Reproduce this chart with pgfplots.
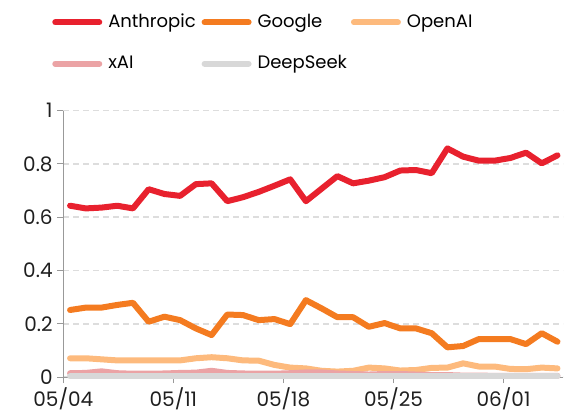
\documentclass[border=0pt]{standalone}
\usepackage{pgfplots}
\usepackage{pgfplotstable}
\pgfplotsset{compat=1.18}
\usepackage{fontspec}
\setmainfont{Poppins}

\definecolor{anth}{HTML}{E8212E}
\definecolor{goog}{HTML}{F47B20}
\definecolor{oai}{HTML}{FDBA7D}
\definecolor{xai}{HTML}{EBA3A5}
\definecolor{ds}{HTML}{D8D8D8}
\definecolor{axgray}{HTML}{999999}
\definecolor{gridgray}{HTML}{DDDDDD}

\pgfplotstableread{
x     anth  goog  oai   xai   ds
0.43  0.643 0.252 0.071 0.015 0.003
1.43  0.633 0.261 0.071 0.016 0.003
2.43  0.636 0.261 0.067 0.022 0.003
3.43  0.643 0.271 0.063 0.015 0.003
4.43  0.633 0.279 0.063 0.013 0.003
5.43  0.705 0.208 0.063 0.013 0.003
6.43  0.687 0.227 0.063 0.014 0.003
7.43  0.680 0.214 0.063 0.016 0.003
8.43  0.724 0.183 0.071 0.017 0.003
9.43  0.727 0.158 0.075 0.024 0.003
10.43 0.660 0.235 0.071 0.016 0.003
11.43 0.675 0.233 0.063 0.014 0.003
12.43 0.695 0.214 0.062 0.013 0.003
13.43 0.718 0.218 0.046 0.013 0.003
14.43 0.742 0.199 0.036 0.015 0.003
15.43 0.660 0.289 0.033 0.018 0.003
16.43 0.707 0.258 0.024 0.018 0.003
17.43 0.754 0.225 0.021 0.014 0.003
18.43 0.727 0.225 0.024 0.012 0.003
19.43 0.737 0.189 0.036 0.010 0.003
20.43 0.750 0.203 0.033 0.012 0.003
21.43 0.775 0.183 0.025 0.012 0.003
22.43 0.777 0.183 0.027 0.010 0.003
23.43 0.765 0.165 0.035 0.008 0.003
24.43 0.858 0.112 0.036 0.008 0.003
25.43 0.827 0.117 0.052 0.006 0.003
26.43 0.812 0.143 0.040 0.006 0.003
27.43 0.812 0.143 0.040 0.005 0.003
28.43 0.822 0.143 0.031 0.005 0.003
29.43 0.842 0.124 0.030 0.005 0.003
30.43 0.802 0.165 0.036 0.005 0.003
31.43 0.832 0.133 0.033 0.005 0.003
}\datatable

\begin{document}
\begin{tikzpicture}
\begin{axis}[
  scale only axis, width=375pt, height=200pt,
  xmin=0, xmax=31.8, ymin=0, ymax=1,
  axis x line*=bottom, axis y line*=left,
  axis line style={axgray, line width=0.9pt},
  tick style={axgray, line width=0.9pt},
  tick align=outside, major tick length=4.5pt,
  xtick={0,7,14,21,28},
  xticklabels={05/04,05/11,05/18,05/25,06/01},
  ytick={0,0.2,0.4,0.6,0.8,1},
  ymajorgrids,
  grid style={gridgray, line width=1.1pt, dash pattern=on 4.3pt off 3.2pt},
  tick label style={font=\fontsize{15}{17}\selectfont, color=black!88},
  /pgf/number format/assume math mode=true,
  clip=false,
  legend columns=3,
  legend cell align=left,
  legend style={draw=none, fill=none, inner sep=0pt,
    at={(-0.0226,1.364)}, anchor=north west,
    font=\fontsize{13.5}{15}\selectfont,
    nodes={inner sep=0pt, text height=10pt, text depth=3pt},
    row sep=18pt,
    /tikz/every odd column/.append style={column sep=4.5pt}},
  legend image code/.code={
    \path[draw=none, fill=none] (-2.25pt,-3pt) rectangle (35.25pt,3pt);
    \draw[#1, line width=4.5pt, line cap=round] (0pt,0pt) -- (33pt,0pt);},
  every axis plot/.append style={line width=4.5pt, line join=round, line cap=round, no marks},
]
\coordinate (O) at (rel axis cs:0,0);
\addplot[anth] table[x=x,y=anth]{\datatable};
\addlegendentry{\makebox[70pt][l]{Anthropic}}
\addplot[goog] table[x=x,y=goog]{\datatable};
\addlegendentry{\makebox[70pt][l]{Google}}
\addplot[oai] table[x=x,y=oai]{\datatable};
\addlegendentry{\makebox[70pt][l]{OpenAI}}
\addplot[xai] table[x=x,y=xai]{\datatable};
\addlegendentry{\makebox[70pt][l]{xAI}}
\addplot[ds] table[x=x,y=ds]{\datatable};
\addlegendentry{\makebox[70pt][l]{DeepSeek}}
\end{axis}
\path (O) ++(-47.475pt,-31.35pt) coordinate (BL);
\path (BL) ++(423.75pt,314.25pt) coordinate (TR);
\pgfresetboundingbox
\useasboundingbox (BL) rectangle (TR);
\end{tikzpicture}
\end{document}
